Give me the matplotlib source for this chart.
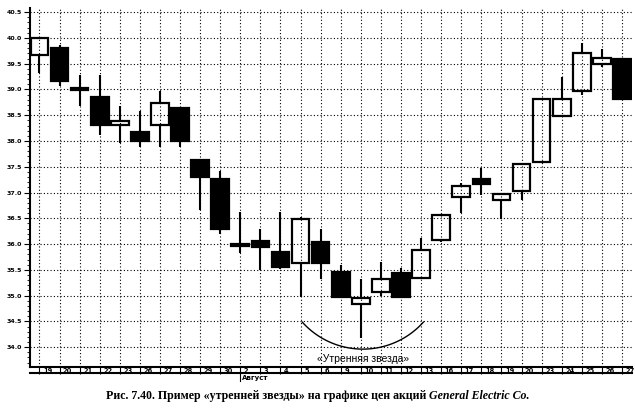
import numpy as np
import matplotlib
matplotlib.use("Agg")
from matplotlib import pyplot as plt
from matplotlib.patches import Rectangle
from matplotlib.transforms import ScaledTranslation

# dates (trading days) and OHLC
days = ['19', '20', '21', '22', '23', '26', '27', '28', '29', '30',
        '2', '3', '4', '5', '6', '9', '10', '11', '12', '13',
        '16', '17', '18', '19', '20', '23', '24', '25', '26', '27']
opens = [39.67, 39.80, 39.02, 38.86, 38.31, 38.18, 38.31, 38.63, 37.64, 37.26,
         36.00, 36.06, 35.85, 35.64, 36.03, 35.46, 34.83, 35.06, 35.43, 35.35,
         36.08, 36.91, 37.26, 36.85, 37.03, 37.60, 38.49, 38.97, 39.49, 39.59]
closes = [40.00, 39.17, 38.98, 38.31, 38.38, 37.99, 38.73, 37.99, 37.30, 36.30,
          35.96, 35.95, 35.55, 36.48, 35.64, 34.98, 34.95, 35.32, 34.98, 35.88,
          36.56, 37.13, 37.17, 36.97, 37.55, 38.82, 38.82, 39.71, 39.61, 38.81]
highs = [40.00, 39.86, 39.28, 39.28, 38.68, 38.58, 38.96, 38.63, 37.64, 37.42,
         36.63, 36.29, 36.63, 36.53, 36.29, 35.59, 35.33, 35.66, 35.53, 36.11,
         36.56, 37.19, 37.47, 36.97, 37.55, 38.82, 39.25, 39.90, 39.78, 39.59]
lows = [39.32, 39.07, 38.68, 38.12, 37.96, 37.89, 37.89, 37.89, 36.66, 36.19,
        35.82, 35.50, 35.51, 34.98, 35.33, 34.95, 34.17, 34.99, 34.98, 35.35,
        36.04, 36.60, 36.95, 36.48, 36.85, 37.60, 38.49, 38.89, 39.44, 38.80]
yticks = [34.0, 34.5, 35.0, 35.5, 36.0, 36.5, 37.0, 37.5, 38.0, 38.5, 39.0, 39.5, 40.0, 40.5]
month = 'Август'
month_at = 10
pattern_label = '«Утренняя звезда»'
caption_main = 'Рис. 7.40. Пример «утренней звезды» на графике цен акций '
caption_ital = 'General Electric Co.'

fig = plt.figure(figsize=(6.35, 4.09), dpi=100)
ax = fig.add_axes([30/635, 1 - 366.7/409, 602/635, 358.7/409])

x = np.arange(len(days))
w = 0.88
for i in x:
    o, c, h, l = opens[i], closes[i], highs[i], lows[i]
    top, bot = max(o, c), min(o, c)
    ax.vlines(i, top, h, color='black', lw=1.5, zorder=2)
    ax.vlines(i, l, bot, color='black', lw=1.5, zorder=2)
    fc = 'black' if c < o else 'none'
    ax.add_patch(Rectangle((i - w/2, bot), w, max(top - bot, 0.02),
                           facecolor=fc, edgecolor='black', lw=1.6, zorder=3))

ax.set_xlim(-0.47, 29.5)
ax.set_ylim(33.62, 40.58)

ax.set_yticks(yticks)
ax.set_yticklabels(['%.1f' % v for v in yticks], fontsize=4.5, fontweight='bold')
ax.set_yticks(np.arange(33.7, 40.55, 0.1), minor=True)
ax.tick_params(axis='y', which='major', length=4, width=0.8, pad=1.5)
ax.tick_params(axis='y', which='minor', length=2, width=0.6)

ax.set_xticks(x)
ax.set_xticklabels(days, fontsize=4.8, fontweight='bold')
ax.tick_params(axis='x', length=5, width=0.8, pad=-4.3)
for lbl in ax.get_xticklabels():
    lbl.set_ha('left')
    lbl.set_transform(lbl.get_transform() + ScaledTranslation(2.5/72, 0, fig.dpi_scale_trans))

ax.grid(True, which='major', color='black', ls=(0, (1, 2)), lw=0.8)
ax.set_axisbelow(True)
for s in ['top', 'right']:
    ax.spines[s].set_visible(False)
for s in ['left', 'bottom']:
    ax.spines[s].set_linewidth(1.5)

# line under the date strip and the month mark
ybase = -(373.3 - 366.7) / 358.7
ax.plot([0, 1], [ybase, ybase], transform=ax.transAxes, color='black', lw=1.5, clip_on=False)
tr = ax.get_xaxis_transform()
ax.plot([month_at, month_at], [ybase, ybase - 0.022], transform=tr, color='black', lw=0.8, clip_on=False)
ax.text(month_at + 0.1, ybase - 0.004, month, transform=tr, fontsize=5, fontweight='bold',
        ha='left', va='top')

# arc under the morning star
sx, sy = 20.08, 51.5
xc, yc, R = 16.1, 40.0 - (267.6 - 38) / 51.5, 81.4
t = np.radians(np.linspace(-138, -42, 80))
ax.plot(xc + R / sx * np.cos(t), yc + R / sy * np.sin(t), color='black', lw=1.0, zorder=4)
ax.text(16.1, 40.0 - (359 - 38) / 51.5, pattern_label, fontsize=7.5, family='Liberation Sans',
        ha='center', va='center', zorder=5)

# caption, upright part then italic part
fig.canvas.draw()
r = fig.canvas.get_renderer()
t1 = fig.text(0, 1 - 396/409, caption_main, fontsize=8.6, family='Liberation Serif',
              fontweight='bold', va='center')
t2 = fig.text(0, 1 - 396/409, caption_ital, fontsize=8.6, family='Liberation Serif',
              fontweight='bold', style='italic', va='center')
w1 = t1.get_window_extent(r).width
w2 = t2.get_window_extent(r).width
x0 = (318 - (w1 + w2) / 2) / 635
t1.set_x(x0)
t2.set_x(x0 + w1 / 635)

fig.savefig('out.png', dpi=100)
